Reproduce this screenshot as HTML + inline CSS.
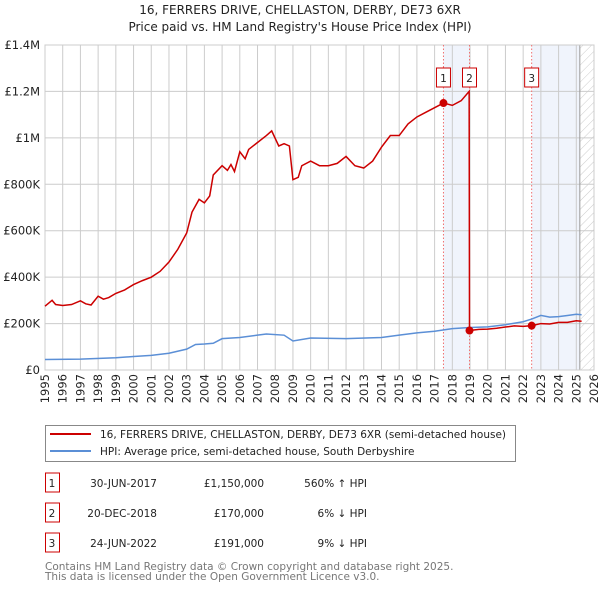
<!DOCTYPE html>
<html><head><meta charset="utf-8"><style>
body{margin:0;background:#fff;width:600px;height:590px;overflow:hidden;font-family:"DejaVu Sans","Liberation Sans",sans-serif}
svg text{font-family:"DejaVu Sans","Liberation Sans",sans-serif}
</style></head><body>
<svg id="c" width="600" height="590" xmlns="http://www.w3.org/2000/svg">
<defs><pattern id="hatch" width="6" height="6" patternUnits="userSpaceOnUse" patternTransform="rotate(45)"><line x1="0" y1="0" x2="0" y2="6" stroke="#ccc" stroke-width="1"/></pattern></defs>
<text x="300" y="14" text-anchor="middle" font-size="12" fill="#222">16, FERRERS DRIVE, CHELLASTON, DERBY, DE73 6XR</text>
<text x="300" y="31" text-anchor="middle" font-size="12" fill="#222">Price paid vs. HM Land Registry's House Price Index (HPI)</text>
<g id="plot"></g>
<g>
<rect x="45.5" y="425.5" width="470" height="36" fill="#fff" stroke="#888"/>
<line x1="50" y1="434" x2="91" y2="434" stroke="#cc0000" stroke-width="2"/>
<text x="100" y="438" font-size="10.5" fill="#222">16, FERRERS DRIVE, CHELLASTON, DERBY, DE73 6XR (semi-detached house)</text>
<line x1="50" y1="451" x2="91" y2="451" stroke="#5b8fd6" stroke-width="2"/>
<text x="100" y="455" font-size="10.5" fill="#222">HPI: Average price, semi-detached house, South Derbyshire</text>
</g>
<g id="tbl" font-size="10.5" fill="#222"></g>
<text x="45" y="570" font-size="10.5" fill="#777">Contains HM Land Registry data © Crown copyright and database right 2025.</text>
<text x="45" y="580" font-size="10.5" fill="#777">This data is licensed under the Open Government Licence v3.0.</text>
</svg>
<script>
const yTicks=[0,200000,400000,600000,800000,1000000,1200000,1400000];
const yTickLabels=["£0","£200K","£400K","£600K","£800K","£1M","£1.2M","£1.4M"];
const xYears=[1995,1996,1997,1998,1999,2000,2001,2002,2003,2004,2005,2006,2007,2008,2009,2010,2011,2012,2013,2014,2015,2016,2017,2018,2019,2020,2021,2022,2023,2024,2025,2026];
const priceT=[1995,1995.4,1995.6,1996,1996.5,1997,1997.3,1997.6,1998,1998.3,1998.6,1999,1999.5,2000,2000.5,2001,2001.5,2002,2002.5,2003,2003.3,2003.7,2004,2004.3,2004.5,2005,2005.3,2005.5,2005.7,2006,2006.3,2006.5,2007,2007.5,2007.8,2008.2,2008.5,2008.8,2009,2009.3,2009.5,2010,2010.5,2011,2011.5,2012,2012.5,2013,2013.5,2014,2014.5,2015,2015.5,2016,2016.5,2017,2017.5,2018,2018.5,2018.95,2018.97,2019.5,2020,2020.5,2021,2021.5,2022,2022.5,2023,2023.5,2024,2024.5,2025,2025.3];
const priceV=[275,300,282,278,282,298,285,280,318,305,312,330,345,368,385,400,425,465,520,590,680,735,720,750,840,880,860,885,855,940,910,950,980,1010,1030,965,975,965,820,830,880,900,880,880,890,920,880,870,900,960,1010,1010,1060,1090,1110,1130,1150,1140,1160,1200,170,175,176,180,185,190,188,191,200,198,205,205,212,210];
const hpiT=[1995,1997,1999,2000,2001,2002,2003,2003.5,2004,2004.5,2005,2006,2007,2007.5,2008.5,2009,2010,2012,2014,2015,2016,2017,2018,2019,2020,2021,2022,2022.5,2023,2023.5,2024,2024.5,2025,2025.3];
const hpiV=[45,47,53,58,63,72,90,110,112,115,135,140,150,155,150,125,138,135,140,150,160,167,178,183,186,195,208,220,235,228,230,235,240,238];
const saleT=[2017.5,2018.97,2022.48];
const saleV=[1150,170,191];
const saleLabels=["1","2","3"];
const saleDates=["30-JUN-2017","20-DEC-2018","24-JUN-2022"];
const salePrices=["£1,150,000","£170,000","£191,000"];
const saleDiff=["560% ↑ HPI","6% ↓ HPI","9% ↓ HPI"];
const X0=45,X1=594,Y0=370,Y1=45;
const xs=t=>X0+(t-1995)/(2026-1995)*(X1-X0);
const ys=v=>Y0-v/1400000*(Y0-Y1);
const NS="http://www.w3.org/2000/svg";
const g=document.getElementById('plot');
function mk(tag,at,par){const e=document.createElementNS(NS,tag);for(const k in at)e.setAttribute(k,at[k]);(par||g).appendChild(e);return e;}
let b=mk('rect',{x:xs(2017.5),y:Y1,width:xs(2018.97)-xs(2017.5),height:Y0-Y1,fill:'#f0f4fc'});


b=mk('rect',{x:xs(2022.48),y:Y1,width:xs(2025.2)-xs(2022.48),height:Y0-Y1,fill:'#f0f4fc'});


b=mk('rect',{x:xs(2025.2),y:Y1,width:X1-xs(2025.2),height:Y0-Y1,fill:'url(#hatch)'});


yTicks.forEach((v,i)=>{
 const l=mk('line',{x1:X0,x2:X1,y1:ys(v),y2:ys(v),stroke:'#ccc'});
 
 
 const t=mk('text',{x:X0-5,y:ys(v)+4,'text-anchor':'end','font-size':'11.5',fill:'#222'});t.textContent=yTickLabels[i];
 
 
});
xYears.forEach(yr=>{
 const l=mk('line',{x1:xs(yr),x2:xs(yr),y1:Y1,y2:Y0,stroke:'#ccc'});
 
 
 const t=mk('text',{x:0,y:0,'text-anchor':'end','font-size':'11.5',fill:'#222',transform:`translate(${xs(yr)+4},${Y0+4}) rotate(-90)`});t.textContent=yr;
 
 
});
mk('line',{x1:xs(2025.2),x2:xs(2025.2),y1:Y1,y2:Y0,stroke:'#999'});
mk('rect',{x:X0,y:Y1,width:X1-X0,height:Y0-Y1,fill:'none',stroke:'#ccc'});
saleT.forEach((t,i)=>{
 const l=mk('line',{x1:xs(t),x2:xs(t),y1:Y1,y2:Y0,stroke:'#f07070','stroke-dasharray':'1.5,2'});
 
 
});
let hp=mk('polyline',{points:hpiT.map((t,i)=>xs(t)+','+ys(hpiV[i]*1000)).join(' '),fill:'none',stroke:'#5b8fd6','stroke-width':1.5});


let pp=mk('polyline',{points:priceT.map((t,i)=>xs(t)+','+ys(priceV[i]*1000)).join(' '),fill:'none',stroke:'#cc0000','stroke-width':1.5});


saleT.forEach((t,i)=>{
 const c=mk('circle',{cx:xs(t),cy:ys(saleV[i]*1000),r:4,fill:'#cc0000'});
 
 
 const r=mk('rect',{x:xs(t)-7,y:68,width:14,height:19,fill:'#fff',stroke:'#cc0000'});
 
 
 const tx=mk('text',{x:xs(t),y:82,'text-anchor':'middle','font-size':'10.5',fill:'#222'});tx.textContent=saleLabels[i];
 
 
});
const tb=document.getElementById('tbl');
saleT.forEach((t,i)=>{
 const y=483+i*30;
 const r=mk('rect',{x:45.5,y:y-10,width:14,height:19,fill:'#fff',stroke:'#cc0000'},tb);
 
 
 const cells=[[52,saleLabels[i],'middle'],[157,saleDates[i],'end'],[264,salePrices[i],'end'],[367,saleDiff[i],'end']];
 cells.forEach(c=>{const e=mk('text',{x:c[0],y:y+4,'text-anchor':c[2]},tb);e.textContent=c[1];
  
  });
});
</script>
</body></html>
